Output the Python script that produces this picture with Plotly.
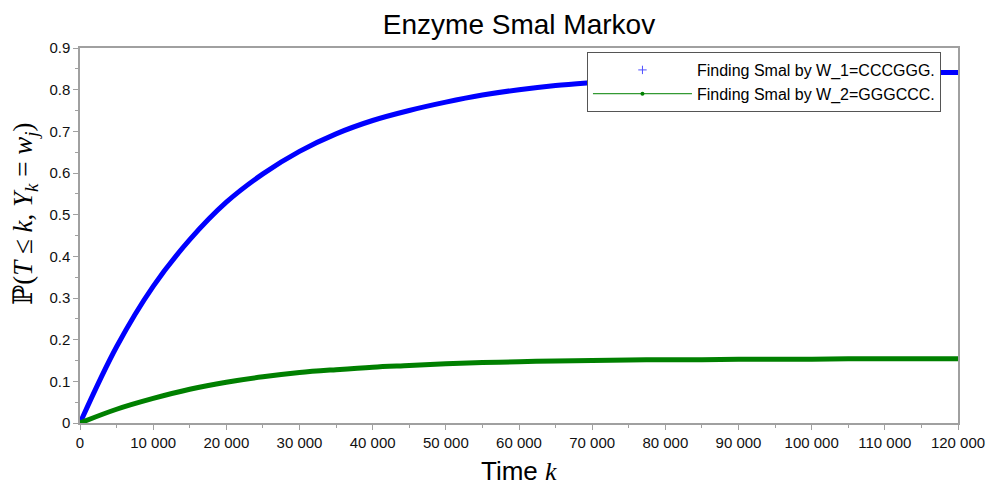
import plotly.graph_objects as go

time_k = [0, 5000, 10000, 15000, 20000, 25000, 30000, 35000, 40000, 45000, 50000,
          55000, 60000, 65000, 70000, 75000, 80000, 85000, 90000, 95000, 100000,
          105000, 110000, 115000, 120000]
p_w1 = [0.0, 0.183, 0.328, 0.440, 0.530, 0.598, 0.652, 0.694, 0.726, 0.750, 0.770,
        0.787, 0.800, 0.810, 0.817, 0.823, 0.828, 0.832, 0.835, 0.837, 0.838,
        0.839, 0.840, 0.841, 0.841]
p_w2 = [0.0, 0.033, 0.059, 0.081, 0.098, 0.111, 0.121, 0.128, 0.134, 0.138, 0.142,
        0.145, 0.147, 0.149, 0.150, 0.151, 0.152, 0.152, 0.153, 0.153, 0.153,
        0.154, 0.154, 0.154, 0.154]

x_tickvals = [0, 10000, 20000, 30000, 40000, 50000, 60000, 70000, 80000, 90000,
              100000, 110000, 120000]
x_ticktext = ["0", "10 000", "20 000", "30 000", "40 000", "50 000", "60 000",
              "70 000", "80 000", "90 000", "100 000", "110 000", "120 000"]
y_tickvals = [0, 0.1, 0.2, 0.3, 0.4, 0.5, 0.6, 0.7, 0.8, 0.9]
y_ticktext = ["0", "0.1", "0.2", "0.3", "0.4", "0.5", "0.6", "0.7", "0.8", "0.9"]

name_w1 = "Finding Smal by W_1=CCCGGG."
name_w2 = "Finding Smal by W_2=GGGCCC."

fig = go.Figure()
fig.add_trace(go.Scatter(x=time_k, y=p_w1, mode="lines", line=dict(color="#0000ff", width=5, shape="spline"),
                         showlegend=False, hoverinfo="skip"))
fig.add_trace(go.Scatter(x=time_k, y=p_w2, mode="lines", line=dict(color="#008000", width=5, shape="spline"),
                         showlegend=False, hoverinfo="skip"))
# legend entries
fig.add_trace(go.Scatter(x=[None], y=[None], mode="markers", name=name_w1,
                         marker=dict(symbol="cross-thin", size=6, color="#0000ff",
                                     line=dict(color="#5050ff", width=1))))
fig.add_trace(go.Scatter(x=[None], y=[None], mode="lines+markers", name=name_w2,
                         line=dict(color="#008000", width=1),
                         marker=dict(symbol="circle", size=4, color="#008000")))

axis_common = dict(
    showline=True, linecolor="#a0a0a0", linewidth=1.5, mirror=True,
    ticks="outside", tickcolor="#a0a0a0", ticklen=5, tickwidth=1,
    showgrid=False, zeroline=False,
    tickfont=dict(family="Liberation Sans, Arial, sans-serif", size=15, color="#111111"),
)

fig.update_layout(
    width=988, height=487,
    margin=dict(l=80, r=30, t=48, b=64, autoexpand=False),
    paper_bgcolor="white", plot_bgcolor="white",
    title=dict(text="Enzyme Smal Markov", x=0.5253, xanchor="center", y=0.9507, yanchor="middle",
               font=dict(family="Liberation Sans, Arial, sans-serif", size=28, color="black")),
    xaxis=dict(range=[0, 120000], tickvals=x_tickvals, ticktext=x_ticktext,
               minor=dict(dtick=5000, tick0=0, ticks="outside", ticklen=3, tickcolor="#a0a0a0"),
               **axis_common),
    yaxis=dict(range=[0, 0.9], tickvals=y_tickvals, ticktext=y_ticktext,
               minor=dict(dtick=0.05, tick0=0, ticks="outside", ticklen=3, tickcolor="#a0a0a0"),
               **axis_common),
    legend=dict(x=0.5774, y=0.9893, xanchor="left", yanchor="top",
                bgcolor="white", bordercolor="#555555", borderwidth=1,
                itemwidth=99, tracegroupgap=0,
                font=dict(family="Liberation Sans, Arial, sans-serif", size=16, color="black")),
    annotations=[
        dict(text="Time&nbsp;<i><span style='font-family:Liberation Serif, serif'>k</span></i>",
             xref="paper", yref="paper", x=0.5, y=-0.128, xanchor="center", yanchor="middle",
             showarrow=False,
             font=dict(family="Liberation Sans, Arial, sans-serif", size=26, color="black")),
        dict(text="ℙ(<i>T</i> ≤ <i>k</i>, <i>Y<sub>k</sub></i> = <i>w<sub>j</sub></i>)",
             xref="paper", yref="paper", x=-0.0626, y=0.5573, xanchor="center", yanchor="middle",
             textangle=-90, showarrow=False,
             font=dict(family="Liberation Serif, DejaVu Serif, serif", size=27, color="black")),
    ],
)

fig.write_html("out.html", config={"displayModeBar": False},
               post_script="document.body.style.margin='0';document.body.style.overflow='hidden';")
